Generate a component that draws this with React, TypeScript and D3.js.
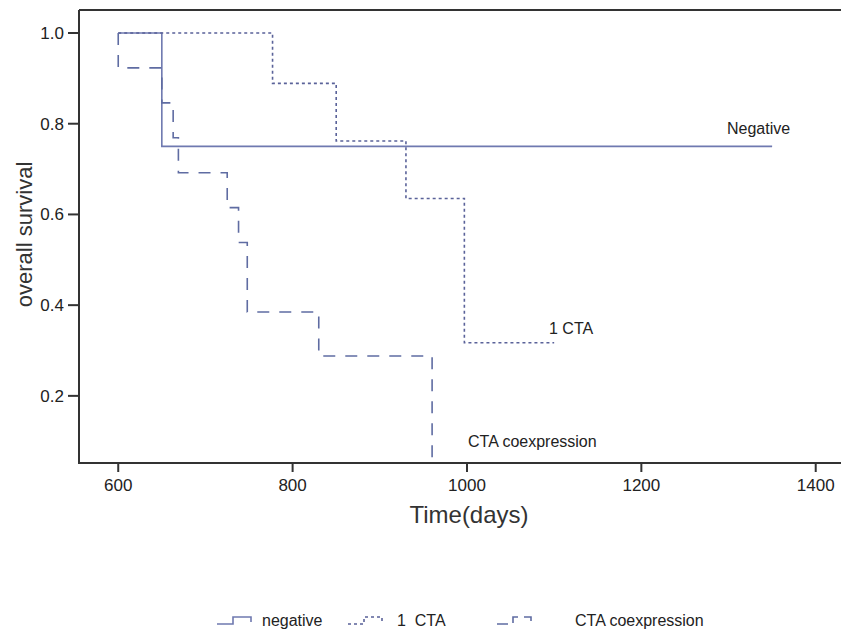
import React from "react";
import * as d3 from "d3";

// Kaplan–Meier step data: event times (days) and survival after each step
const negativeTimes = [600, 650, 1350];
const negativeSurv = [1.0, 0.75, 0.75];

const oneCtaTimes = [600, 777, 850, 930, 997, 1100];
const oneCtaSurv = [1.0, 0.889, 0.762, 0.635, 0.317, 0.317];

const coexTimes = [600, 600, 650, 663, 669, 725, 738, 748, 830, 960];
const coexSurv = [1.0, 0.923, 0.846, 0.769, 0.692, 0.615, 0.538, 0.385, 0.288, 0.0];

const xTicks = [600, 800, 1000, 1200, 1400];
const yTicks = [0.2, 0.4, 0.6, 0.8, 1.0];

const legendLabels = ["negative", "1  CTA", "CTA coexpression"];
const curveLabels = ["Negative", "1 CTA", "CTA coexpression"];

const W = 841;
const H = 629;
const left = 79;
const top = 10;
const bottom = 463;

const x = d3.scaleLinear().domain([555, 1429]).range([left, W]);
const y = d3.scaleLinear().domain([0.052, 1.0507]).range([bottom, top]);

const zip = (ts: number[], ss: number[]) => ts.map((t, i) => [t, ss[i]] as [number, number]);

const stepLine = d3
  .line<[number, number]>()
  .x((d) => x(d[0]))
  .y((d) => y(d[1]))
  .curve(d3.curveStepAfter);

const styles = [
  { stroke: "#6f79b0", dash: undefined as string | undefined, width: 1.6 },
  { stroke: "#5a6299", dash: "3,3", width: 1.6 },
  { stroke: "#5f6ca2", dash: "12,10", width: 1.6 },
];

const FONT = "'Liberation Sans', Arial, sans-serif";

export default function App() {
  const series = [
    zip(negativeTimes, negativeSurv),
    zip(oneCtaTimes, oneCtaSurv),
    zip(coexTimes, coexSurv),
  ];

  const legendX = [217, 348, 497];
  const legendTextX = [262, 397, 575];
  const legendY = 622;

  return (
    <svg
      width={W}
      height={H}
      style={{ position: "absolute", left: 0, top: 0, background: "#fff" }}
      fontFamily={FONT}
    >
      <defs>
        <clipPath id="plotArea">
          <rect x={left} y={top} width={W - left} height={bottom - top - 1} />
        </clipPath>
      </defs>

      {/* curves */}
      <g clipPath="url(#plotArea)">
        {series.map((s, i) => (
          <path
            key={i}
            d={stepLine(s) || ""}
            fill="none"
            stroke={styles[i].stroke}
            strokeWidth={styles[i].width}
            strokeDasharray={styles[i].dash}
          />
        ))}
      </g>

      {/* frame */}
      <line x1={left} x2={W} y1={top} y2={top} stroke="#333" strokeWidth={2} />
      <line x1={left} x2={left} y1={top} y2={bottom} stroke="#333" strokeWidth={2} />
      <line x1={left - 1} x2={W} y1={bottom} y2={bottom} stroke="#333" strokeWidth={2} />

      {/* y ticks */}
      {yTicks.map((t) => (
        <g key={t}>
          <line x1={left - 11} x2={left} y1={y(t)} y2={y(t)} stroke="#333" strokeWidth={2} />
          <text
            x={left - 15}
            y={y(t)}
            dy="0.35em"
            textAnchor="end"
            fontSize={17}
            fill="#222"
          >
            {t.toFixed(1)}
          </text>
        </g>
      ))}

      {/* x ticks */}
      {xTicks.map((t) => (
        <g key={t}>
          <line x1={x(t)} x2={x(t)} y1={bottom} y2={bottom + 9} stroke="#333" strokeWidth={2} />
          <text x={x(t)} y={bottom + 28} textAnchor="middle" fontSize={17} fill="#222">
            {t}
          </text>
        </g>
      ))}

      {/* axis titles */}
      <text x={469} y={523} textAnchor="middle" fontSize={24} fill="#333">
        Time(days)
      </text>
      <text
        transform={`translate(32, ${y(0.6) + 20}) rotate(-90)`}
        textAnchor="middle"
        fontSize={22}
        fill="#333"
      >
        overall survival
      </text>

      {/* curve labels */}
      <text x={727} y={134} fontSize={16} fill="#222">
        {curveLabels[0]}
      </text>
      <text x={549} y={334} fontSize={16} fill="#222">
        {curveLabels[1]}
      </text>
      <text x={468} y={447} fontSize={16} fill="#222">
        {curveLabels[2]}
      </text>

      {/* legend */}
      {legendLabels.map((lab, i) => {
        const x0 = legendX[i];
        const d = `M${x0},${legendY + 2} H${x0 + 16} V${legendY - 5} H${x0 + 34} V${legendY}`;
        return (
          <g key={lab}>
            <path
              d={d}
              fill="none"
              stroke={styles[i].stroke}
              strokeWidth={1.6}
              strokeDasharray={i === 2 ? "11,6" : styles[i].dash}
            />
            <text
              x={legendTextX[i]}
              y={legendY + 4}
              fontSize={16}
              fill="#222"
              style={{ whiteSpace: "pre" }}
            >
              {lab}
            </text>
          </g>
        );
      })}
    </svg>
  );
}
